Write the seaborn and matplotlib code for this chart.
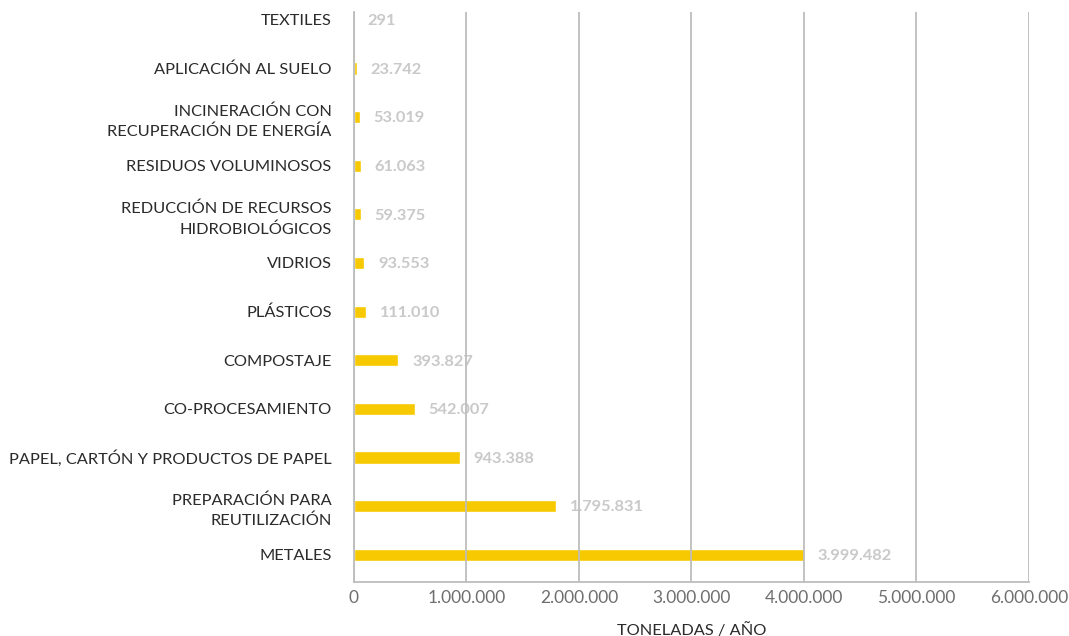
import matplotlib
matplotlib.use("Agg")
import matplotlib.pyplot as plt
import matplotlib.ticker as mticker
import pandas as pd
import seaborn as sns

categories = [
    "TEXTILES",
    "APLICACIÓN AL SUELO",
    "INCINERACIÓN CON\nRECUPERACIÓN DE ENERGÍA",
    "RESIDUOS VOLUMINOSOS",
    "REDUCCIÓN DE RECURSOS\nHIDROBIOLÓGICOS",
    "VIDRIOS",
    "PLÁSTICOS",
    "COMPOSTAJE",
    "CO-PROCESAMIENTO",
    "PAPEL, CARTÓN Y PRODUCTOS DE PAPEL",
    "PREPARACIÓN PARA\nREUTILIZACIÓN",
    "METALES",
]
toneladas = [291, 23742, 53019, 61063, 59375, 93553, 111010, 393827,
             542007, 943388, 1795831, 3999482]
x_ticks = [0, 1000000, 2000000, 3000000, 4000000, 5000000, 6000000]

BAR_COLOR = "#F7C900"
GRID_COLOR = "#BDBDBD"


def miles(v):
    # thousands separator with dots, spanish style
    return f"{int(v):,}".replace(",", ".")


df = pd.DataFrame({"categoria": categories, "toneladas": toneladas})

sns.set_style("white")
plt.rcParams["font.family"] = ["Lato", "DejaVu Sans"]

fig = plt.figure(figsize=(10.69, 6.36), dpi=100)
ax = fig.add_axes([0.331, 0.085, 0.6315, 0.896])

sns.barplot(data=df, y="categoria", x="toneladas", orient="h",
            color=BAR_COLOR, width=0.25, saturation=1, ax=ax, zorder=1)

for i, v in enumerate(toneladas):
    ax.annotate(miles(v), xy=(v, i), xytext=(10, -1), textcoords="offset points",
                va="center", ha="left", fontsize=11.8, fontweight="bold",
                color="#C9C9C9", zorder=0)

ax.set_xlim(0, 6000000)
ax.set_ylim(11.56, -0.16)
ax.set_xticks(x_ticks)
ax.xaxis.set_major_formatter(mticker.FuncFormatter(lambda v, p: miles(v)))
ax.grid(axis="x", color=GRID_COLOR, linewidth=1.3, zorder=2)
ax.set_axisbelow(False)
for name in ["top", "right"]:
    ax.spines[name].set_visible(False)
for name in ["left", "bottom"]:
    ax.spines[name].set_color(GRID_COLOR)
    ax.spines[name].set_linewidth(1.3)

ax.tick_params(axis="x", colors=GRID_COLOR, length=4, width=1.3,
               labelcolor="#6e6e6e", labelsize=12.5, pad=2)
ax.tick_params(axis="y", length=0, labelcolor="#2b2b2b", labelsize=11.8, pad=16)
for lab in ax.get_yticklabels():
    lab.set_linespacing(1.55)

ax.set_ylabel("")
ax.set_xlabel("TONELADAS / AÑO", fontsize=11.8, color="#2b2b2b", labelpad=12)

fig.savefig("out.png", dpi=100)
